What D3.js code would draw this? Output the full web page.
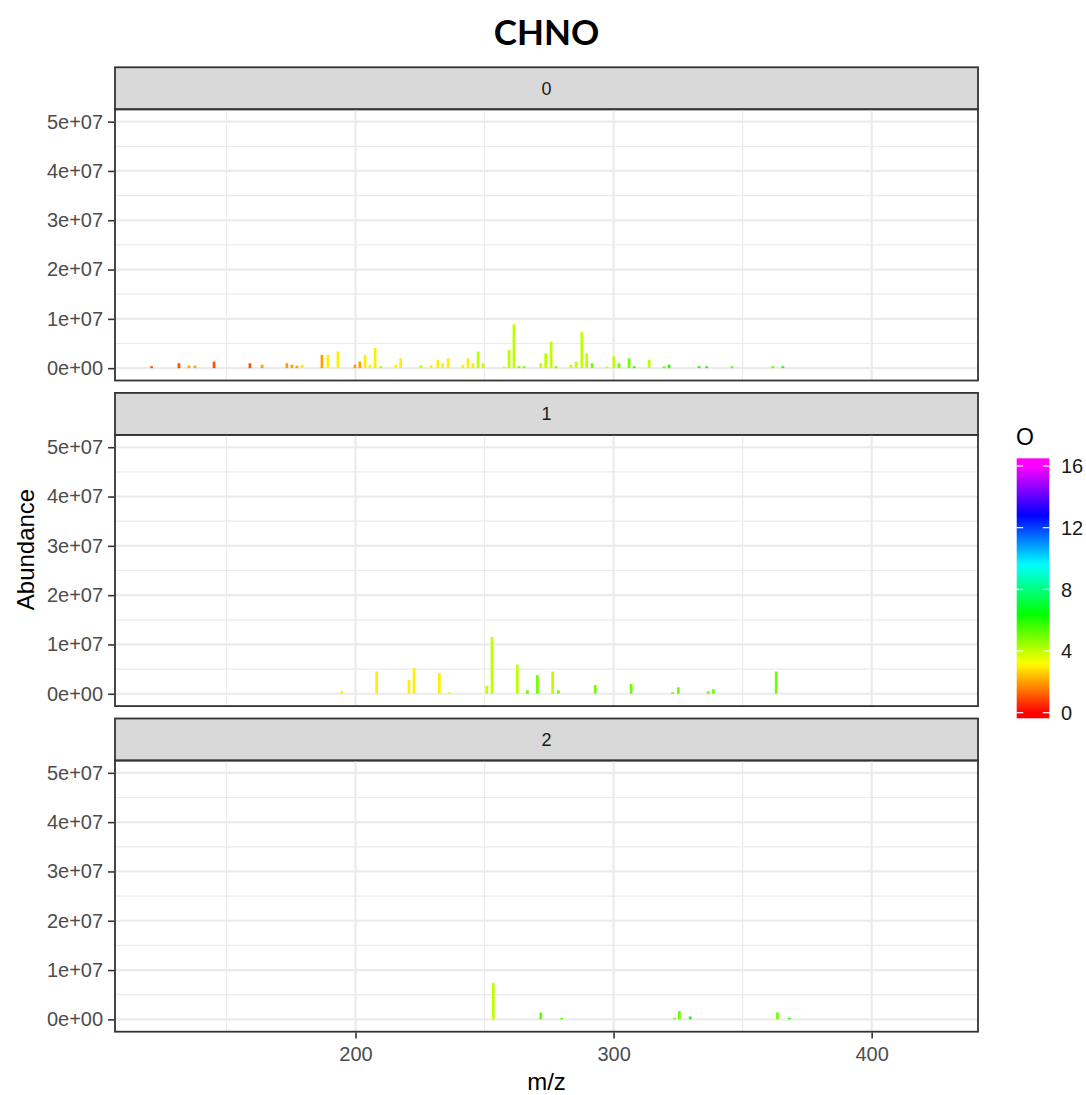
<!DOCTYPE html>
<html>
<head>
<meta charset="utf-8">
<script src="https://cdn.jsdelivr.net/npm/d3@7"></script>
<style>
  html, body { margin: 0; padding: 0; background: #fff; }
  svg { display: block; }
</style>
</head>
<body>
<div id="chart"></div>
<script>
// ---------- DATA ----------
const facetLabels = ["0", "1", "2"];

// facet 0
const mz0 = [121.0,131.6,135.5,137.8,145.2,159.1,163.8,173.4,175.4,177.3,179.3,187.0,189.3,193.2,199.8,201.7,203.7,205.6,207.6,209.8,215.6,217.5,225.4,229.3,231.9,233.8,235.9,241.6,243.6,245.5,247.5,249.4,257.6,259.5,261.4,263.4,265.3,271.8,273.7,275.8,277.7,283.5,285.5,287.7,289.6,291.7,297.5,300.1,302.1,306.0,308.0,313.8,319.6,321.5,333.1,336.1,345.9,361.7,365.6];
const ab0 = [0.4e6,1.0e6,0.5e6,0.5e6,1.35e6,1.0e6,0.7e6,1.0e6,0.7e6,0.5e6,0.7e6,2.7e6,2.7e6,3.4e6,0.7e6,1.35e6,2.7e6,0.7e6,4.1e6,0.4e6,0.7e6,2.0e6,0.6e6,0.6e6,1.7e6,1.0e6,2.0e6,0.7e6,2.0e6,1.0e6,3.4e6,1.0e6,0.3e6,3.7e6,8.9e6,0.4e6,0.4e6,1.0e6,3.0e6,5.4e6,0.4e6,0.7e6,1.35e6,7.3e6,3.0e6,1.0e6,0.3e6,2.4e6,1.0e6,2.0e6,0.4e6,1.7e6,0.4e6,0.7e6,0.4e6,0.4e6,0.4e6,0.4e6,0.4e6];
const o0 = [1,1,2,2,1,1,2,2,2,2,3,2,3,3,2,2,3,3,3,4,3,3,4,3,3,3,3,3,3,3,4,4,4,4,4,5,5,4,4,4,5,4,4,4,4,5,4,4,5,5,6,4,5,6,6,6,5,5,6];

// facet 1
const mz1 = [194.7,208.2,220.7,222.7,232.5,236.4,250.9,252.9,262.7,266.6,270.5,276.4,278.6,292.9,306.8,322.9,325.1,336.7,338.7,363.0];
const ab1 = [0.55e6,4.5e6,2.8e6,5.2e6,4.2e6,0.3e6,1.6e6,11.5e6,5.9e6,0.7e6,3.8e6,4.5e6,0.7e6,1.75e6,2.0e6,0.3e6,1.3e6,0.5e6,0.9e6,4.5e6];
const o1 = [3,3,3,3,3,3,4,4,4,5,5,4,5,5,5,5,5,5,5,5];

// facet 2
const mz2 = [253.4,271.8,279.9,323.6,325.5,329.7,363.5,368.1];
const ab2 = [7.4e6,1.4e6,0.3e6,0.3e6,1.7e6,0.6e6,1.4e6,0.3e6];
const o2 = [4,5,5,5,5,6,5,6];

const yTicks = [0, 1e7, 2e7, 3e7, 4e7, 5e7];
const yTickLabels = ["0e+00", "1e+07", "2e+07", "3e+07", "4e+07", "5e+07"];
const yMinor = [0.5e7, 1.5e7, 2.5e7, 3.5e7, 4.5e7];
const xTicks = [200, 300, 400];
const xMinor = [150, 250, 350];
const legendTicks = [0, 4, 8, 12, 16];

// ---------- LAYOUT ----------
const W = 1086, H = 1095;
const left = 115, right = 978;
const stripTop0 = 67.3, period = 325.6, stripH = 42, plotH = 271.2;
const font = "'Liberation Sans', Arial, sans-serif";

const svg = d3.select("#chart").append("svg").attr("width", W).attr("height", H);
svg.append("rect").attr("width", W).attr("height", H).attr("fill", "#fff");

const x = d3.scaleLinear().domain([106.82, 441.2]).range([left, right]);
const colorOf = o => d3.hsl(o / 16 * 300, 1, 0.5).formatHex();

const facets = [
  {mz: mz0, ab: ab0, o: o0},
  {mz: mz1, ab: ab1, o: o1},
  {mz: mz2, ab: ab2, o: o2}
];

facets.forEach((f, i) => {
  const sTop = stripTop0 + i * period;
  const pTop = sTop + stripH;
  const pBot = pTop + plotH;
  const y = d3.scaleLinear().domain([-0.25e7, 5.25e7]).range([pBot, pTop]);
  const g = svg.append("g");

  // strip
  g.append("rect").attr("x", left).attr("y", sTop).attr("width", right - left).attr("height", stripH)
    .attr("fill", "#D9D9D9").attr("stroke", "#333333").attr("stroke-width", 1.8);
  g.append("text").attr("x", (left + right) / 2).attr("y", sTop + stripH / 2)
    .attr("dy", "0.36em").attr("text-anchor", "middle")
    .attr("font-family", font).attr("font-size", 18).attr("fill", "#1A1A1A")
    .text(facetLabels[i]);

  // grid
  const grid = g.append("g");
  yMinor.forEach(v => grid.append("line").attr("x1", left).attr("x2", right)
    .attr("y1", y(v)).attr("y2", y(v)).attr("stroke", "#EBEBEB").attr("stroke-width", 1.2));
  xMinor.forEach(v => grid.append("line").attr("y1", pTop).attr("y2", pBot)
    .attr("x1", x(v)).attr("x2", x(v)).attr("stroke", "#EBEBEB").attr("stroke-width", 1.2));
  yTicks.forEach(v => grid.append("line").attr("x1", left).attr("x2", right)
    .attr("y1", y(v)).attr("y2", y(v)).attr("stroke", "#EBEBEB").attr("stroke-width", 2.2));
  xTicks.forEach(v => grid.append("line").attr("y1", pTop).attr("y2", pBot)
    .attr("x1", x(v)).attr("x2", x(v)).attr("stroke", "#EBEBEB").attr("stroke-width", 2.2));

  // bars
  g.append("g").selectAll("rect").data(f.mz.map((m, k) => ({m, a: f.ab[k], o: f.o[k]})))
    .join("rect")
    .attr("x", d => x(d.m - 0.53))
    .attr("width", d => x(d.m + 0.53) - x(d.m - 0.53))
    .attr("y", d => y(d.a))
    .attr("height", d => y(0) - y(d.a))
    .attr("fill", d => colorOf(d.o));

  // border
  g.append("rect").attr("x", left).attr("y", pTop).attr("width", right - left).attr("height", plotH)
    .attr("fill", "none").attr("stroke", "#333333").attr("stroke-width", 1.8);

  // y axis
  const ya = d3.axisLeft(y).tickValues(yTicks).tickFormat((d, k) => yTickLabels[k]).tickSize(6).tickPadding(5);
  const yg = g.append("g").attr("transform", `translate(${left - 0.9},0)`).call(ya);
  yg.select(".domain").remove();
  yg.selectAll(".tick line").attr("stroke", "#333333").attr("stroke-width", 1.6);
  yg.selectAll(".tick text").attr("font-family", font).attr("font-size", 20).attr("fill", "#4D4D4D");

  if (i === facets.length - 1) {
    const xa = d3.axisBottom(x).tickValues(xTicks).tickFormat(d3.format("d")).tickSize(6).tickPadding(8);
    const xg = g.append("g").attr("transform", `translate(0,${pBot + 0.9})`).call(xa);
    xg.select(".domain").remove();
    xg.selectAll(".tick line").attr("stroke", "#333333").attr("stroke-width", 1.6);
    xg.selectAll(".tick text").attr("font-family", font).attr("font-size", 20).attr("fill", "#4D4D4D");
  }
});

// titles
svg.append("text").attr("x", (left + right) / 2).attr("y", 45)
  .attr("text-anchor", "middle").attr("font-family", "Lato, 'Open Sans', sans-serif")
  .attr("font-weight", "bold").attr("font-size", 35).attr("fill", "#000").text("CHNO");

svg.append("text").attr("x", (left + right) / 2).attr("y", 1090)
  .attr("text-anchor", "middle").attr("font-family", font).attr("font-size", 24)
  .attr("fill", "#000").text("m/z");

svg.append("text").attr("transform", `translate(34,${(stripTop0 + stripTop0 + 2 * period + stripH + plotH) / 2}) rotate(-90)`)
  .attr("text-anchor", "middle").attr("font-family", font).attr("font-size", 24)
  .attr("fill", "#000").text("Abundance");

// legend
const barX = 1016.7, barW = 32.6, barTop = 458.3, barBot = 718.3;
const lv = d3.scaleLinear().domain([0, 16]).range([712.7, 466]);
const defs = svg.append("defs");
const grad = defs.append("linearGradient").attr("id", "cbar")
  .attr("x1", 0).attr("x2", 0).attr("y1", 1).attr("y2", 0);
const nStops = 60;
for (let s = 0; s <= nStops; s++) {
  const yy = barBot - (barBot - barTop) * s / nStops;
  const v = Math.max(0, Math.min(16, lv.invert(yy)));
  grad.append("stop").attr("offset", s / nStops).attr("stop-color", colorOf(v));
}
svg.append("rect").attr("x", barX).attr("y", barTop).attr("width", barW).attr("height", barBot - barTop)
  .attr("fill", "url(#cbar)");
legendTicks.forEach(v => {
  svg.append("line").attr("x1", barX).attr("x2", barX + 6.5).attr("y1", lv(v)).attr("y2", lv(v))
    .attr("stroke", "#fff").attr("stroke-width", 1.2);
  svg.append("line").attr("x1", barX + barW - 6.5).attr("x2", barX + barW).attr("y1", lv(v)).attr("y2", lv(v))
    .attr("stroke", "#fff").attr("stroke-width", 1.2);
  svg.append("text").attr("x", 1061).attr("y", lv(v)).attr("dy", "0.36em")
    .attr("font-family", font).attr("font-size", 20).attr("fill", "#1A1A1A").text(v);
});
svg.append("text").attr("x", 1016).attr("y", 445).attr("font-family", font).attr("font-size", 23)
  .attr("fill", "#000").text("O");
</script>
</body>
</html>
